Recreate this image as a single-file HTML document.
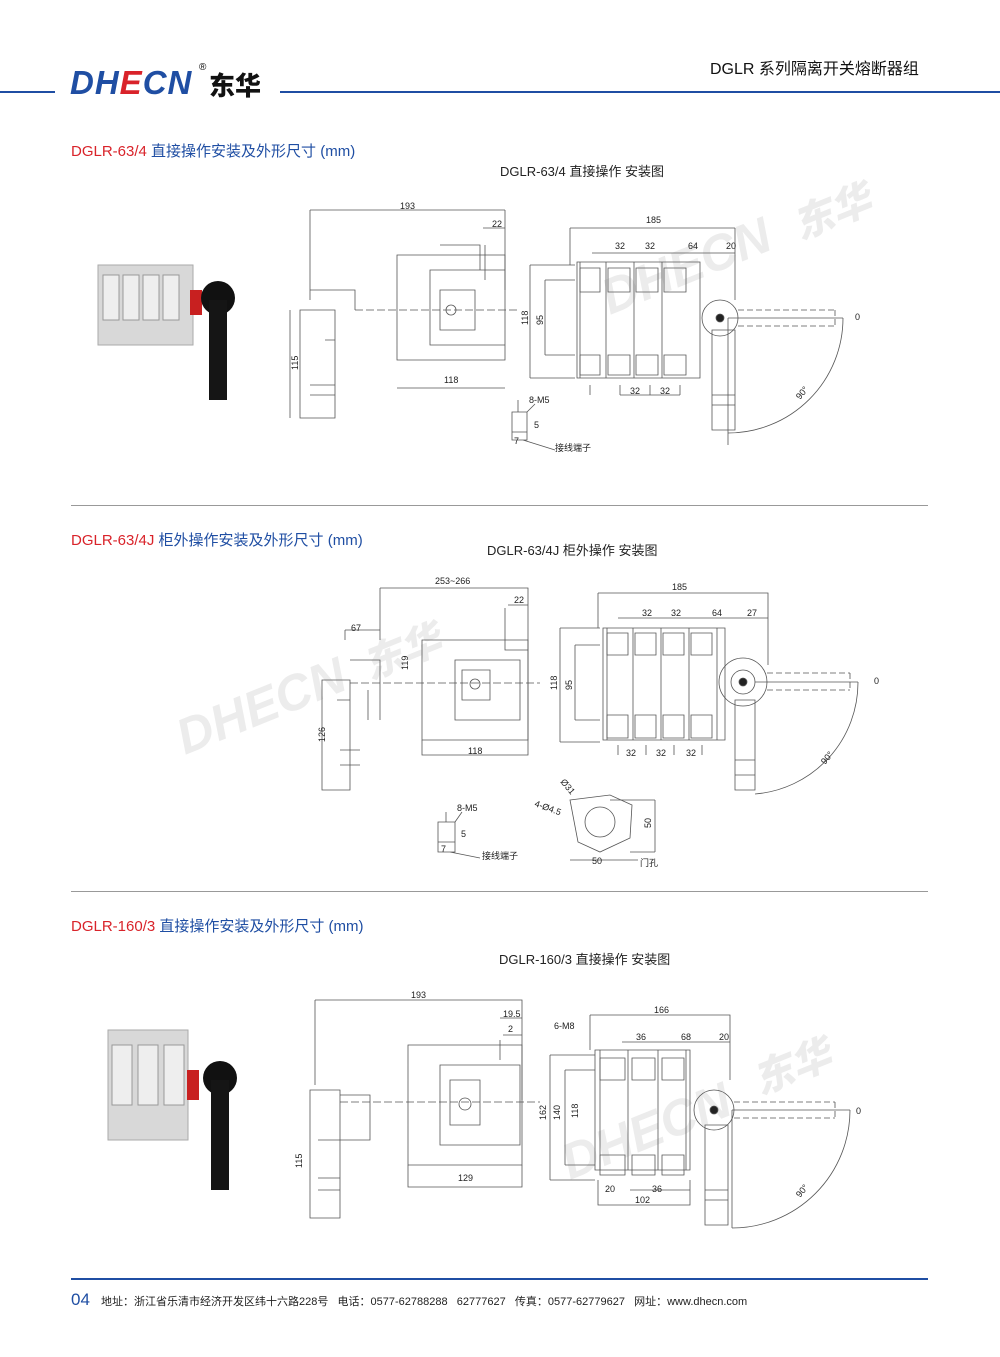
<!DOCTYPE html>
<html><head><meta charset="utf-8"><style>
html,body{margin:0;padding:0;background:#fff}
body{width:1000px;height:1357px;position:relative;overflow:hidden;font-family:"Liberation Sans","Noto Sans CJK SC",sans-serif}
.a{position:absolute;white-space:nowrap}
svg text{font-family:"Liberation Sans","Noto Sans CJK SC",sans-serif}
</style></head><body>
<div class="a" style="left:0;top:91px;width:55px;height:2px;background:#1f4ea3"></div>
<div class="a" style="left:280px;top:91px;width:720px;height:2px;background:#1f4ea3"></div>
<div class="a" style="left:70px;top:64px;font:italic 900 33px 'Liberation Sans',sans-serif;color:#1f4ea3;letter-spacing:1px">DH<span style="color:#d9232a">E</span>CN</div>
<div class="a" style="left:199px;top:62px;font-size:10px">®</div>
<div class="a" style="left:209px;top:66px;font-weight:900;font-size:26px;color:#111">东华</div>
<div class="a" style="left:710px;top:55px;font-size:16px;color:#111">DGLR 系列隔离开关熔断器组</div>

<div class="a" style="left:71px;top:140px;font-size:15px;color:#1f4ea3"><span style="color:#d9232a">DGLR-63/4</span> 直接操作安装及外形尺寸 (mm)</div>
<div class="a" style="left:71px;top:529px;font-size:15px;color:#1f4ea3"><span style="color:#d9232a">DGLR-63/4J</span> 柜外操作安装及外形尺寸 (mm)</div>
<div class="a" style="left:71px;top:915px;font-size:15px;color:#1f4ea3"><span style="color:#d9232a">DGLR-160/3</span> 直接操作安装及外形尺寸 (mm)</div>
<div class="a" style="left:71px;top:505px;width:857px;height:1px;background:#999"></div>
<div class="a" style="left:71px;top:891px;width:857px;height:1px;background:#999"></div>
<div class="a" style="left:71px;top:1278px;width:857px;height:2px;background:#1f4ea3"></div>
<div class="a" style="left:71px;top:1290px;font-size:17px;color:#1f4ea3">04</div>
<div class="a" style="left:101px;top:1293px;font-size:11px;color:#222">地址：浙江省乐清市经济开发区纬十六路228号 &nbsp;&nbsp;电话：0577-62788288 &nbsp;&nbsp;62777627 &nbsp;&nbsp;传真：0577-62779627 &nbsp;&nbsp;网址：www.dhecn.com</div>

<svg class="a" style="left:0;top:0" width="1000" height="1357" viewBox="0 0 1000 1357">
<g font-size="13" fill="#222">
<text x="500" y="176">DGLR-63/4 直接操作 安装图</text>
<text x="487" y="555">DGLR-63/4J 柜外操作 安装图</text>
<text x="499" y="964">DGLR-160/3 直接操作 安装图</text>
</g>
<g fill="#ececec" font-weight="900" font-style="italic">
<text x="610" y="315" font-size="50" transform="rotate(-22 610 315)">DHECN</text>
<text x="800" y="240" font-size="40" transform="rotate(-22 800 240)">东华</text>
<text x="185" y="755" font-size="50" transform="rotate(-22 185 755)">DHECN</text>
<text x="370" y="680" font-size="40" transform="rotate(-22 370 680)">东华</text>
<text x="570" y="1180" font-size="50" transform="rotate(-22 570 1180)">DHECN</text>
<text x="760" y="1095" font-size="40" transform="rotate(-22 760 1095)">东华</text>
</g>

<g>
<rect x="98" y="265" width="95" height="80" fill="#d8d8d8" stroke="#aaa"/>
<rect x="103" y="275" width="16" height="45" fill="#eee" stroke="#999"/><rect x="123" y="275" width="16" height="45" fill="#eee" stroke="#999"/><rect x="143" y="275" width="16" height="45" fill="#eee" stroke="#999"/><rect x="163" y="275" width="16" height="45" fill="#eee" stroke="#999"/>
<rect x="190" y="290" width="12" height="25" fill="#c82020"/>
<circle cx="218" cy="298" r="17" fill="#111"/><rect x="209" y="300" width="18" height="100" fill="#151515"/>
<rect x="108" y="1030" width="80" height="110" fill="#d8d8d8" stroke="#aaa"/>
<rect x="112" y="1045" width="20" height="60" fill="#eee" stroke="#999"/><rect x="138" y="1045" width="20" height="60" fill="#eee" stroke="#999"/><rect x="164" y="1045" width="20" height="60" fill="#eee" stroke="#999"/>
<rect x="187" y="1070" width="12" height="30" fill="#c82020"/>
<circle cx="220" cy="1078" r="17" fill="#111"/><rect x="211" y="1080" width="18" height="110" fill="#151515"/>
</g>

<g fill="none" stroke="#555" stroke-width="0.8">
<path d="M310 210H505M310 210V300M505 210V290M483 228H505"/>
<path d="M300 310H335V418H300ZM310 290H355V310M325 340H335V418M310 385H335M310 395H335"/>
<path d="M355 310H520" stroke-dasharray="8 3"/>
<path d="M397 255H505V360H397ZM430 270H505V345H430ZM440 290H475V330H440Z"/><circle cx="451" cy="310" r="5"/>
<path d="M440 245H480V270M485 245V280M397 388H505"/>
<path d="M290 310V418"/>
<path d="M570 228H735M570 228V265M735 228V300M592 253H735M530 265H575M530 378H575M545 280H575M545 355H575M530 265V378M545 280V355"/>
<path d="M577 262H700V378H577Z"/>
<path d="M580 262V378M606 262V378M634 262V378M662 262V378"/>
<path d="M580 268H600V292H580ZM608 268H630V292H608ZM636 268H658V292H636ZM664 268H686V292H664ZM580 355H600V375H580ZM608 355H630V375H608ZM636 355H658V375H636ZM664 355H686V375H664Z"/>
<path d="M590 385V395M620 385V395M650 385V395M680 385V395M620 395H680"/>
<circle cx="720" cy="318" r="18"/><circle cx="720" cy="318" r="4" fill="#222"/>
<path d="M738 310H835M738 326H835M835 310V326" stroke-dasharray="6 3"/>
<path d="M712 330H735V430H712ZM712 395H735M712 405H735"/>
<path d="M843 318A115 115 0 0 1 728 433"/><path d="M728 318H843M728 318V445"/>
<path d="M512 412H527V440H512ZM518 400V412M512 432H527M527 412L535 404M523 440L555 450"/>
<path d="M380 588H528V740M380 588V640M508 605H528M345 630H380M345 630V640"/>
<path d="M322 680H350V790H322ZM337 700H350V790M340 750H360M340 765H360M350 660H380V720M368 690V720"/>
<path d="M350 683H540" stroke-dasharray="8 3"/>
<path d="M422 640H528V740H422ZM455 660H520V720H455ZM462 670H490V700H462ZM505 608V650H528"/><circle cx="475" cy="684" r="5"/>
<path d="M422 740V755H528V740"/>
<path d="M598 593H768V665M598 593V628M618 618H768M560 628H600M560 742H600M575 645H600M575 720H600M560 628V742M575 645V720"/>
<path d="M603 628H725V740H603Z"/>
<path d="M607 628V740M633 628V740M661 628V740M689 628V740M717 628V740"/>
<path d="M607 633H628V655H607ZM635 633H656V655H635ZM663 633H684V655H663ZM691 633H712V655H691ZM607 715H628V738H607ZM635 715H656V738H635ZM663 715H684V738H663ZM691 715H712V738H691Z"/>
<path d="M618 745V755M646 745V755M674 745V755M702 745V755"/>
<circle cx="743" cy="682" r="24"/><circle cx="743" cy="682" r="12"/><circle cx="743" cy="682" r="4" fill="#222"/>
<path d="M767 673H850M767 690H850M850 673V690" stroke-dasharray="6 3"/>
<path d="M735 700H755V790H735ZM735 760H755M735 775H755"/>
<path d="M858 682A112 112 0 0 1 755 794"/><path d="M755 682H858"/>
<path d="M438 822H455V852H438ZM446 812V822M438 842H455M455 822L462 812M450 852L480 858"/>
<path d="M570 800L610 795L632 805L630 838L600 852L578 842Z"/><circle cx="600" cy="822" r="15"/>
<path d="M570 860H638M655 800V852M610 800H655M630 852H655"/>
<path d="M315 1000H522V1100M315 1000V1085M500 1018H522M503 1035H522"/>
<path d="M310 1090H340V1218H310ZM318 1140H340M318 1178H340M318 1190H340M340 1095H370V1140H340"/>
<path d="M340 1102H540" stroke-dasharray="8 3"/>
<path d="M408 1045H522V1165H408ZM440 1065H520V1145H440ZM450 1080H480V1125H450ZM500 1040V1060"/><circle cx="465" cy="1104" r="6"/>
<path d="M408 1165V1187H522V1165"/>
<path d="M590 1015H730V1080M590 1015V1050M622 1042H730M550 1055H595M550 1180H595M565 1070H595M565 1165H595M550 1055V1180M565 1070V1165"/>
<path d="M595 1050H690V1170H595Z"/>
<path d="M600 1050V1170M628 1050V1170M658 1050V1170M686 1050V1170"/>
<path d="M600 1058H625V1080H600ZM632 1058H655V1080H632ZM662 1058H684V1080H662ZM600 1155H625V1175H600ZM632 1155H655V1175H632ZM662 1155H684V1175H662Z"/>
<path d="M598 1180V1205H690V1180M630 1190H690"/>
<circle cx="714" cy="1110" r="20"/><circle cx="714" cy="1110" r="4" fill="#222"/>
<path d="M734 1102H835M734 1118H835M835 1102V1118" stroke-dasharray="6 3"/>
<path d="M705 1125H728V1225H705ZM705 1190H728M705 1200H728"/>
<path d="M850 1110A118 118 0 0 1 732 1228"/><path d="M732 1110H850M732 1110V1228"/>
</g>
<g font-size="9" fill="#222">
<text x="400" y="209">193</text><text x="492" y="227">22</text><text x="444" y="383">118</text>
<text x="298" y="370" transform="rotate(-90 298 370)">115</text>
<text x="528" y="325" transform="rotate(-90 528 325)">118</text><text x="543" y="325" transform="rotate(-90 543 325)">95</text>
<text x="646" y="223">185</text><text x="615" y="249">32</text><text x="645" y="249">32</text><text x="688" y="249">64</text><text x="726" y="249">20</text>
<text x="630" y="394">32</text><text x="660" y="394">32</text><text x="855" y="320">0</text><text x="800" y="400" transform="rotate(-50 800 400)">90°</text>
<text x="529" y="403">8-M5</text><text x="534" y="428">5</text><text x="514" y="444">7</text><text x="555" y="451">接线端子</text>
<text x="435" y="584">253~266</text><text x="514" y="603">22</text><text x="351" y="631">67</text><text x="468" y="754">118</text>
<text x="408" y="670" transform="rotate(-90 408 670)">119</text><text x="325" y="742" transform="rotate(-90 325 742)">126</text>
<text x="557" y="690" transform="rotate(-90 557 690)">118</text><text x="572" y="690" transform="rotate(-90 572 690)">95</text>
<text x="672" y="590">185</text><text x="642" y="616">32</text><text x="671" y="616">32</text><text x="712" y="616">64</text><text x="747" y="616">27</text>
<text x="626" y="756">32</text><text x="656" y="756">32</text><text x="686" y="756">32</text><text x="874" y="684">0</text>
<text x="825" y="765" transform="rotate(-50 825 765)">90°</text>
<text x="457" y="811">8-M5</text><text x="461" y="837">5</text><text x="441" y="852">7</text><text x="482" y="859">接线端子</text>
<text x="560" y="782" transform="rotate(50 560 782)">Ø31</text><text x="534" y="806" transform="rotate(20 534 806)">4-Ø4.5</text>
<text x="592" y="864">50</text><text x="651" y="828" transform="rotate(-90 651 828)">50</text><text x="640" y="866">门孔</text>
<text x="411" y="998">193</text><text x="503" y="1017">19.5</text><text x="508" y="1032">2</text><text x="458" y="1181">129</text>
<text x="302" y="1168" transform="rotate(-90 302 1168)">115</text>
<text x="546" y="1120" transform="rotate(-90 546 1120)">162</text><text x="560" y="1120" transform="rotate(-90 560 1120)">140</text><text x="578" y="1118" transform="rotate(-90 578 1118)">118</text>
<text x="554" y="1029">6-M8</text><text x="654" y="1013">166</text><text x="636" y="1040">36</text><text x="681" y="1040">68</text><text x="719" y="1040">20</text>
<text x="605" y="1192">20</text><text x="652" y="1192">36</text><text x="635" y="1203">102</text><text x="856" y="1114">0</text>
<text x="800" y="1198" transform="rotate(-50 800 1198)">90°</text>
</g>
</svg>
</body></html>
